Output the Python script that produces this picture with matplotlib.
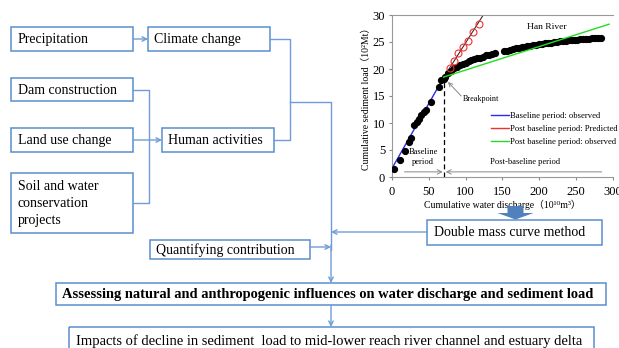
import matplotlib
matplotlib.use('Agg')
import matplotlib.pyplot as plt
import matplotlib.patches as mpatches
from matplotlib.lines import Line2D

plt.rcParams.update({
    'font.family': ['Liberation Serif', 'DejaVu Serif', 'Noto Sans CJK SC'],
    'axes.linewidth': 0.8,
})

# --- double mass curve data ---
base_x = [3.1, 11.3, 17.1, 22.5, 25.8, 30.2, 33.9, 37.0, 39.8, 42.9, 46.5, 52.9, 63.3, 66.9, 70.0]
base_y = [1.4, 3.1, 4.8, 6.5, 7.2, 9.7, 10.2, 10.8, 11.4, 12.1, 12.5, 13.9, 16.6, 17.9, 18.2]

post_x = [72, 76, 80, 84, 88, 92, 96, 100, 104, 108, 112, 116, 120, 124, 128, 132, 136, 140,
          152, 156, 160, 164, 168, 172, 176, 180, 184, 188, 192, 196, 200, 204, 208, 212, 216,
          220, 224, 228, 232, 236, 240, 244, 248, 252, 256, 260, 264, 268, 272, 276, 280, 284]
post_y = [18.6, 19.2, 19.7, 20.1, 20.4, 20.7, 21.0, 21.2, 21.4, 21.6, 21.8, 22.0, 22.1, 22.3,
          22.5, 22.6, 22.8, 22.9, 23.3, 23.4, 23.6, 23.7, 23.8, 23.9, 24.0, 24.1, 24.2, 24.3,
          24.4, 24.5, 24.6, 24.7, 24.8, 24.85, 24.9, 25.0, 25.05, 25.1, 25.2, 25.25, 25.3, 25.35,
          25.4, 25.45, 25.5, 25.55, 25.6, 25.6, 25.65, 25.7, 25.7, 25.75]

pred_x = [78.2, 83.6, 89.5, 96.3, 103.1, 110.7, 118.0]
pred_y = [20.1, 21.5, 22.9, 24.0, 25.1, 26.9, 28.3]

blue_fit_x, blue_fit_y = [0, 70], [1.6, 18.4]
pred_fit_x, pred_fit_y = [70, 124], [18.4, 30.0]
green_fit_x, green_fit_y = [70, 295], [18.5, 28.3]
breakpoint_x = 70

x_ticks = [0, 50, 100, 150, 200, 250, 300]
y_ticks = [0, 5, 10, 15, 20, 25, 30]
legend_labels = ['Baseline period: observed',
                 'Post baseline period: Predicted',
                 'Post baseline period: observed']

# --- flowchart boxes: label, (x0, y0, x1, y1) in pixels, font size, bold ---
boxes = [
    ('Precipitation', (11, 27, 133, 51), 10, False),
    ('Climate change', (148, 27, 270, 51), 10, False),
    ('Dam construction', (11, 78, 133, 101), 10, False),
    ('Land use change', (11, 128, 133, 152), 10, False),
    ('Soil and water\nconservation\nprojects', (11, 173, 133, 233), 10, False),
    ('Human activities', (162, 128, 274, 152), 10, False),
    ('Quantifying contribution', (150, 240, 310, 259), 10, False),
    ('Double mass curve method', (427, 220, 602, 245), 10, False),
    ('Assessing natural and anthropogenic influences on water discharge and sediment load',
     (56, 283, 606, 305), 10.45, True),
    ('Impacts of decline in sediment  load to mid-lower reach river channel and estuary delta',
     (69, 327, 594, 352), 10.5, False),
]

BOX_C = '#5B8ED0'
LINE_C = '#6F9CD8'

fig = plt.figure(figsize=(6.19, 3.48), dpi=100)
bg = fig.add_axes([0, 0, 1, 1])
bg.set_xlim(0, 619)
bg.set_ylim(348, 0)
bg.axis('off')

for label, (x0, y0, x1, y1), fs, bold in boxes:
    bg.add_patch(mpatches.Rectangle((x0, y0), x1 - x0, y1 - y0, fill=False,
                                    edgecolor=BOX_C, linewidth=1.1))
    ty = (y0 + y1) / 2 + 0.5
    if y1 > 348:
        ty = 341
    bg.text(x0 + 6.5, ty, label, fontsize=fs, va='center', ha='left',
            linespacing=1.42, fontweight='bold' if bold else 'normal')

segments = [
    [(133, 89.5), (149, 89.5), (149, 203), (133, 203)],
    [(270, 39), (290, 39), (290, 140), (274, 140)],
    [(290, 102), (331, 102), (331, 250)],
]
for seg in segments:
    xs, ys = zip(*seg)
    bg.plot(xs, ys, color=LINE_C, linewidth=1.0)

arrows = [
    ((133, 39), (148, 39)),
    ((133, 140), (162, 140)),
    ((427, 232), (331, 232)),
    ((310, 247), (331, 247)),
    ((331, 245), (331, 283)),
    ((331, 305), (331, 327)),
]
for (xa, ya), (xb, yb) in arrows:
    bg.annotate('', xy=(xb, yb), xytext=(xa, ya),
                arrowprops=dict(arrowstyle='->', color=LINE_C, lw=1.0,
                                shrinkA=0, shrinkB=0, mutation_scale=8))

# --- inset double mass curve ---
ax = fig.add_axes([392 / 619, 1 - 177 / 348, 220.8 / 619, 162 / 348])
ax.set_facecolor('none')
ax.plot(blue_fit_x, blue_fit_y, color='#2B2BF0', linewidth=1.0, zorder=2)
ax.plot(pred_fit_x, pred_fit_y, color='#333333', linewidth=0.8, zorder=2)
ax.plot(green_fit_x, green_fit_y, color='#22DD22', linewidth=1.0, zorder=4)
ax.plot(base_x, base_y, 'o', color='black', markersize=4.2, zorder=3)
ax.plot(post_x, post_y, 'o', color='black', markersize=4.2, zorder=3)
ax.plot(pred_x, pred_y, 'o', markerfacecolor='none', markeredgecolor='#F03030',
        markersize=5, markeredgewidth=0.8, zorder=3)
ax.plot([breakpoint_x, breakpoint_x], [0, 18.0], color='black', linestyle='--',
        linewidth=0.9, dashes=(4, 2.5), zorder=2)

ax.set_xlim(0, 300)
ax.set_ylim(0, 30)
ax.set_xticks(x_ticks)
ax.set_yticks(y_ticks)
ax.tick_params(labelsize=9, length=2, color='#888888')
ax.tick_params(axis='x', pad=4.5)
ax.tick_params(axis='y', pad=3)
for s in ['left', 'bottom', 'top']:
    ax.spines[s].set_color('#999999')
ax.spines['right'].set_visible(False)

ax.set_xlabel('Cumulative water discharge（10¹⁰m³）', fontsize=7)
ax.set_ylabel('Cumulative sediment load（10²Mt）', fontsize=7)
ax.xaxis.set_label_coords(0.5, -0.14)
ax.yaxis.set_label_coords(-0.095, 0.5)

ax.text(210, 27.8, 'Han River', fontsize=6.8, ha='center', va='center')
ax.text(96, 14.4, 'Breakpoint', fontsize=5.9, ha='left', va='center')
ax.annotate('', xy=(76, 17.6), xytext=(94, 15.0),
            arrowprops=dict(arrowstyle='->', color='#888888', lw=0.7,
                            shrinkA=0, shrinkB=0, mutation_scale=7))
ax.text(42, 3.7, 'Baseline\nperiod', fontsize=6.1, ha='center', va='center',
        linespacing=1.2)
ax.text(181, 2.7, 'Post-baseline period', fontsize=6.1, ha='center', va='center')
ax.annotate('', xy=(69, 0.95), xytext=(17, 0.95),
            arrowprops=dict(arrowstyle='->', color='#888888', lw=0.7,
                            shrinkA=0, shrinkB=0, mutation_scale=8))
ax.annotate('', xy=(73, 0.95), xytext=(285, 0.95),
            arrowprops=dict(arrowstyle='->', color='#888888', lw=0.7,
                            shrinkA=0, shrinkB=0, mutation_scale=8))

handles = [Line2D([], [], color='#2B2BF0', lw=1.0),
           Line2D([], [], color='#F03030', lw=1.0),
           Line2D([], [], color='#22DD22', lw=1.0)]
ax.legend(handles, legend_labels, loc='center left', bbox_to_anchor=(0.45, 0.295),
          frameon=False, fontsize=6.2, handlelength=2.1, handletextpad=0.1,
          labelspacing=0.55, borderpad=0, borderaxespad=0)

# block arrow pointing into the method box, drawn over the x label
top = fig.add_axes([0, 0, 1, 1], zorder=5)
top.set_xlim(0, 619)
top.set_ylim(348, 0)
top.axis('off')
top.add_patch(mpatches.FancyArrow(515.5, 206, 0, 13.5, width=16, head_width=36,
                                  head_length=6.5, length_includes_head=True,
                                  color='#4F81BD', linewidth=0))

fig.savefig('out.png', dpi=100)
